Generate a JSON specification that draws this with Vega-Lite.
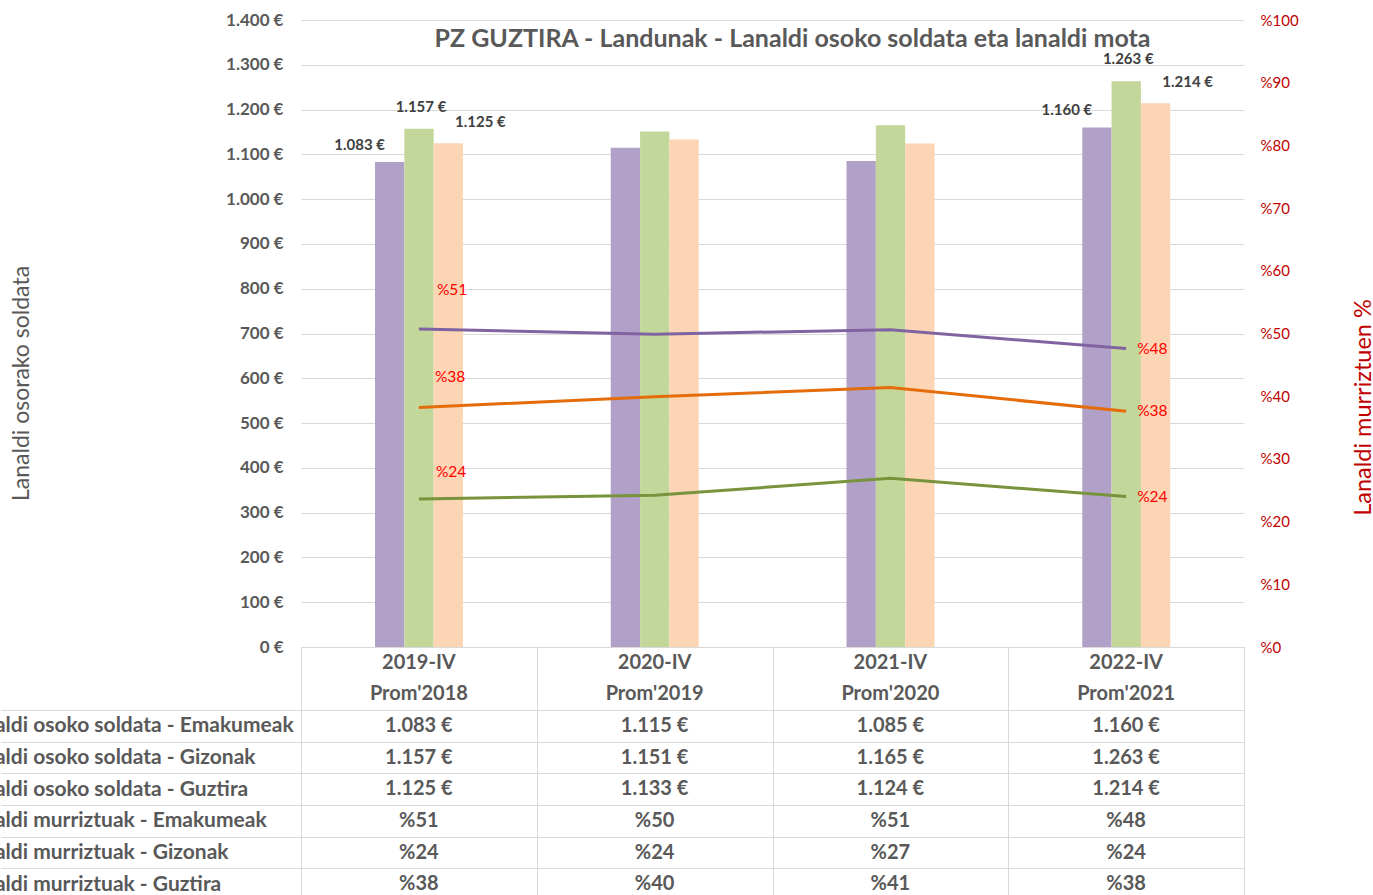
{
  "$schema": "https://vega.github.io/schema/vega-lite/v6.json",
  "autosize": {"type": "pad"},
  "padding": {"left": -40, "top": 11, "right": 0, "bottom": 0},
  "background": "white",
  "config": {"font": "Lato", "view": {"stroke": null}},
  "datasets": {
    "main": [
      {"period": "2019-IV", "prom": "Prom'2018", "series": "Emakumeak", "soldata": 1083, "murriztuak": 50.7},
      {"period": "2019-IV", "prom": "Prom'2018", "series": "Gizonak", "soldata": 1157, "murriztuak": 23.6},
      {"period": "2019-IV", "prom": "Prom'2018", "series": "Guztira", "soldata": 1125, "murriztuak": 38.2},
      {"period": "2020-IV", "prom": "Prom'2019", "series": "Emakumeak", "soldata": 1115, "murriztuak": 49.9},
      {"period": "2020-IV", "prom": "Prom'2019", "series": "Gizonak", "soldata": 1151, "murriztuak": 24.2},
      {"period": "2020-IV", "prom": "Prom'2019", "series": "Guztira", "soldata": 1133, "murriztuak": 39.9},
      {"period": "2021-IV", "prom": "Prom'2020", "series": "Emakumeak", "soldata": 1085, "murriztuak": 50.6},
      {"period": "2021-IV", "prom": "Prom'2020", "series": "Gizonak", "soldata": 1165, "murriztuak": 26.9},
      {"period": "2021-IV", "prom": "Prom'2020", "series": "Guztira", "soldata": 1124, "murriztuak": 41.4},
      {"period": "2022-IV", "prom": "Prom'2021", "series": "Emakumeak", "soldata": 1160, "murriztuak": 47.6},
      {"period": "2022-IV", "prom": "Prom'2021", "series": "Gizonak", "soldata": 1263, "murriztuak": 24.0},
      {"period": "2022-IV", "prom": "Prom'2021", "series": "Guztira", "soldata": 1214, "murriztuak": 37.6}
    ]
  },
  "spacing": 0,
  "bounds": "flush",
  "vconcat": [
    {
      "width": 943,
      "height": 627,
      "title": {"text": "PZ GUZTIRA - Landunak - Lanaldi osoko soldata eta lanaldi mota", "fontSize": 25, "fontWeight": "bold", "color": "#595959", "anchor": "middle", "offset": -53, "baseline": "middle", "dx": 20},
      "data": {"name": "main"},
      "encoding": {
        "x": {"field": "period", "type": "nominal", "scale": {"type": "band", "paddingInner": 0, "paddingOuter": 0}, "axis": null}
      },
      "layer": [
        {
          "encoding": {
            "y": {"field": "soldata", "type": "quantitative", "scale": {"domain": [0, 1400], "nice": false},
              "axis": {"orient": "left", "values": [0,100,200,300,400,500,600,700,800,900,1000,1100,1200,1300,1400],
                "labelExpr": "replace(format(datum.value, ',.0f'), ',', '.') + ' €'",
                "grid": true, "gridColor": "#d9d9d9", "domain": false, "ticks": false, "labelPadding": 18,
                "labelFontSize": 17, "labelFontWeight": "bold", "labelColor": "#595959",
                "title": "Lanaldi osorako soldata", "titleFontSize": 23, "titleFontWeight": "normal", "titleColor": "#595959",
                "titleX": -280, "titleY": 363, "titleAngle": -90, "titleAlign": "center", "titleBaseline": "middle"}}
          },
          "layer": [
            {
              "mark": {"type": "bar"},
              "encoding": {
                "xOffset": {"field": "series", "type": "nominal", "scale": {"domain": ["Emakumeak", "Gizonak", "Guztira"], "range": [74, 162], "paddingInner": 0, "paddingOuter": 0}},
                "color": {"field": "series", "type": "nominal", "scale": {"domain": ["Emakumeak", "Gizonak", "Guztira"], "range": ["#B1A0C7", "#C4D79B", "#FCD5B4"]}, "legend": null}
              }
            },
            {
              "transform": [
                {"filter": "datum.series == 'Emakumeak' && (datum.period == '2019-IV' || datum.period == '2022-IV')"},
                {"calculate": "replace(format(datum.soldata, ',.0f'), ',', '.') + ' €'", "as": "lbl"}
              ],
              "mark": {"type": "text", "dx": -30, "dy": -17, "fontSize": 15, "fontWeight": "bold", "color": "#404040"},
              "encoding": {
                "xOffset": {"field": "series", "type": "nominal", "scale": {"domain": ["Emakumeak", "Gizonak", "Guztira"], "range": [74, 162], "paddingInner": 0, "paddingOuter": 0}},
                "text": {"field": "lbl"}
              }
            },
            {
              "transform": [
                {"filter": "datum.series == 'Gizonak' && (datum.period == '2019-IV' || datum.period == '2022-IV')"},
                {"calculate": "replace(format(datum.soldata, ',.0f'), ',', '.') + ' €'", "as": "lbl"}
              ],
              "mark": {"type": "text", "dx": 2, "dy": -22, "fontSize": 15, "fontWeight": "bold", "color": "#404040"},
              "encoding": {
                "xOffset": {"field": "series", "type": "nominal", "scale": {"domain": ["Emakumeak", "Gizonak", "Guztira"], "range": [74, 162], "paddingInner": 0, "paddingOuter": 0}},
                "text": {"field": "lbl"}
              }
            },
            {
              "transform": [
                {"filter": "datum.series == 'Guztira' && (datum.period == '2019-IV' || datum.period == '2022-IV')"},
                {"calculate": "replace(format(datum.soldata, ',.0f'), ',', '.') + ' €'", "as": "lbl"}
              ],
              "mark": {"type": "text", "dx": 32, "dy": -21, "fontSize": 15, "fontWeight": "bold", "color": "#404040"},
              "encoding": {
                "xOffset": {"field": "series", "type": "nominal", "scale": {"domain": ["Emakumeak", "Gizonak", "Guztira"], "range": [74, 162], "paddingInner": 0, "paddingOuter": 0}},
                "text": {"field": "lbl"}
              }
            }
          ]
        },
        {
          "encoding": {
            "y": {"field": "murriztuak", "type": "quantitative", "scale": {"domain": [0, 100], "nice": false},
              "axis": {"orient": "right", "values": [0,10,20,30,40,50,60,70,80,90,100],
                "labelExpr": "'%' + datum.value",
                "grid": false, "domain": false, "ticks": false, "labelPadding": 16,
                "labelFontSize": 15, "labelColor": "#C00000",
                "title": "Lanaldi murriztuen %", "titleFontSize": 23.5, "titleFontWeight": "normal", "titleColor": "#C00000",
                "titleX": 119, "titleY": 387, "titleAngle": -90, "titleAlign": "center", "titleBaseline": "middle"}}
          },
          "layer": [
            {
              "mark": {"type": "line", "strokeWidth": 3},
              "encoding": {
                "stroke": {"field": "series", "type": "nominal", "scale": {"domain": ["Emakumeak", "Gizonak", "Guztira"], "range": ["#8064A2", "#77933C", "#E46C0A"]}, "legend": null}
              }
            },
            {
              "transform": [
                {"filter": "datum.period == '2019-IV' && datum.series == 'Emakumeak'"},
                {"calculate": "'%' + format(datum.murriztuak, '.0f')", "as": "lbl"}
              ],
              "mark": {"type": "text", "align": "left", "dx": 18, "dy": -39, "fontSize": 15.5, "color": "#FF0000"},
              "encoding": {"text": {"field": "lbl"}}
            },
            {
              "transform": [
                {"filter": "datum.period == '2019-IV' && datum.series == 'Guztira'"},
                {"calculate": "'%' + format(datum.murriztuak, '.0f')", "as": "lbl"}
              ],
              "mark": {"type": "text", "align": "left", "dx": 16, "dy": -30, "fontSize": 15.5, "color": "#FF0000"},
              "encoding": {"text": {"field": "lbl"}}
            },
            {
              "transform": [
                {"filter": "datum.period == '2019-IV' && datum.series == 'Gizonak'"},
                {"calculate": "'%' + format(datum.murriztuak, '.0f')", "as": "lbl"}
              ],
              "mark": {"type": "text", "align": "left", "dx": 17, "dy": -27, "fontSize": 15.5, "color": "#FF0000"},
              "encoding": {"text": {"field": "lbl"}}
            },
            {
              "transform": [
                {"filter": "datum.period == '2022-IV'"},
                {"calculate": "'%' + format(datum.murriztuak, '.0f')", "as": "lbl"}
              ],
              "mark": {"type": "text", "align": "left", "dx": 11, "dy": 0, "fontSize": 15.5, "color": "#FF0000"},
              "encoding": {"text": {"field": "lbl"}}
            }
          ]
        }
      ],
      "resolve": {"scale": {"y": "independent"}}
    },
    {
      "width": 943,
      "height": 63,
      "view": {"stroke": "#d9d9d9"},
      "data": {"name": "main"},
      "transform": [
        {"filter": "datum.series == 'Emakumeak'"},
        {"fold": ["period", "prom"], "as": ["hdr", "txt"]}
      ],
      "mark": {"type": "text", "fontSize": 20, "fontWeight": "bold", "color": "#595959"},
      "encoding": {
        "x": {"field": "period", "type": "nominal", "scale": {"type": "band", "paddingInner": 0, "paddingOuter": 0},
          "axis": {"tickBand": "extent", "grid": true, "gridColor": "#d9d9d9", "labels": false, "ticks": false, "domain": false, "title": null}},
        "y": {"field": "hdr", "type": "nominal", "scale": {"type": "band", "domain": ["period", "prom"], "paddingInner": 0, "paddingOuter": 0}, "axis": null},
        "text": {"field": "txt"}
      }
    },
    {
      "width": 943,
      "height": 190,
      "view": {"stroke": "#d9d9d9"},
      "data": {"name": "main"},
      "transform": [
        {"fold": ["soldata", "murriztuak"], "as": ["measure", "v"]},
        {"calculate": "(datum.measure == 'soldata' ? 'Lanaldi osoko soldata - ' : 'Lanaldi murriztuak - ') + datum.series", "as": "row"},
        {"calculate": "datum.measure == 'soldata' ? replace(format(datum.v, ',.0f'), ',', '.') + ' €' : '%' + format(datum.v, '.0f')", "as": "cell"}
      ],
      "mark": {"type": "text", "fontSize": 20, "fontWeight": "bold", "color": "#595959"},
      "encoding": {
        "x": {"field": "period", "type": "nominal", "scale": {"type": "band", "paddingInner": 0, "paddingOuter": 0},
          "axis": {"tickBand": "extent", "grid": true, "gridColor": "#d9d9d9", "labels": false, "ticks": false, "domain": false, "title": null}},
        "y": {"field": "row", "type": "nominal",
          "scale": {"type": "band", "paddingInner": 0, "paddingOuter": 0,
            "domain": ["Lanaldi osoko soldata - Emakumeak", "Lanaldi osoko soldata - Gizonak", "Lanaldi osoko soldata - Guztira", "Lanaldi murriztuak - Emakumeak", "Lanaldi murriztuak - Gizonak", "Lanaldi murriztuak - Guztira"]},
          "axis": {"orient": "left", "tickBand": "extent", "grid": true, "gridColor": "#d9d9d9", "ticks": true, "tickSize": 300, "tickColor": "#d9d9d9",
            "domain": false, "labelAlign": "left", "labelPadding": 40, "labelLimit": 500, "labelFontSize": 21, "labelFontWeight": "bold", "labelColor": "#595959", "title": null}},
        "text": {"field": "cell"}
      }
    }
  ]
}
